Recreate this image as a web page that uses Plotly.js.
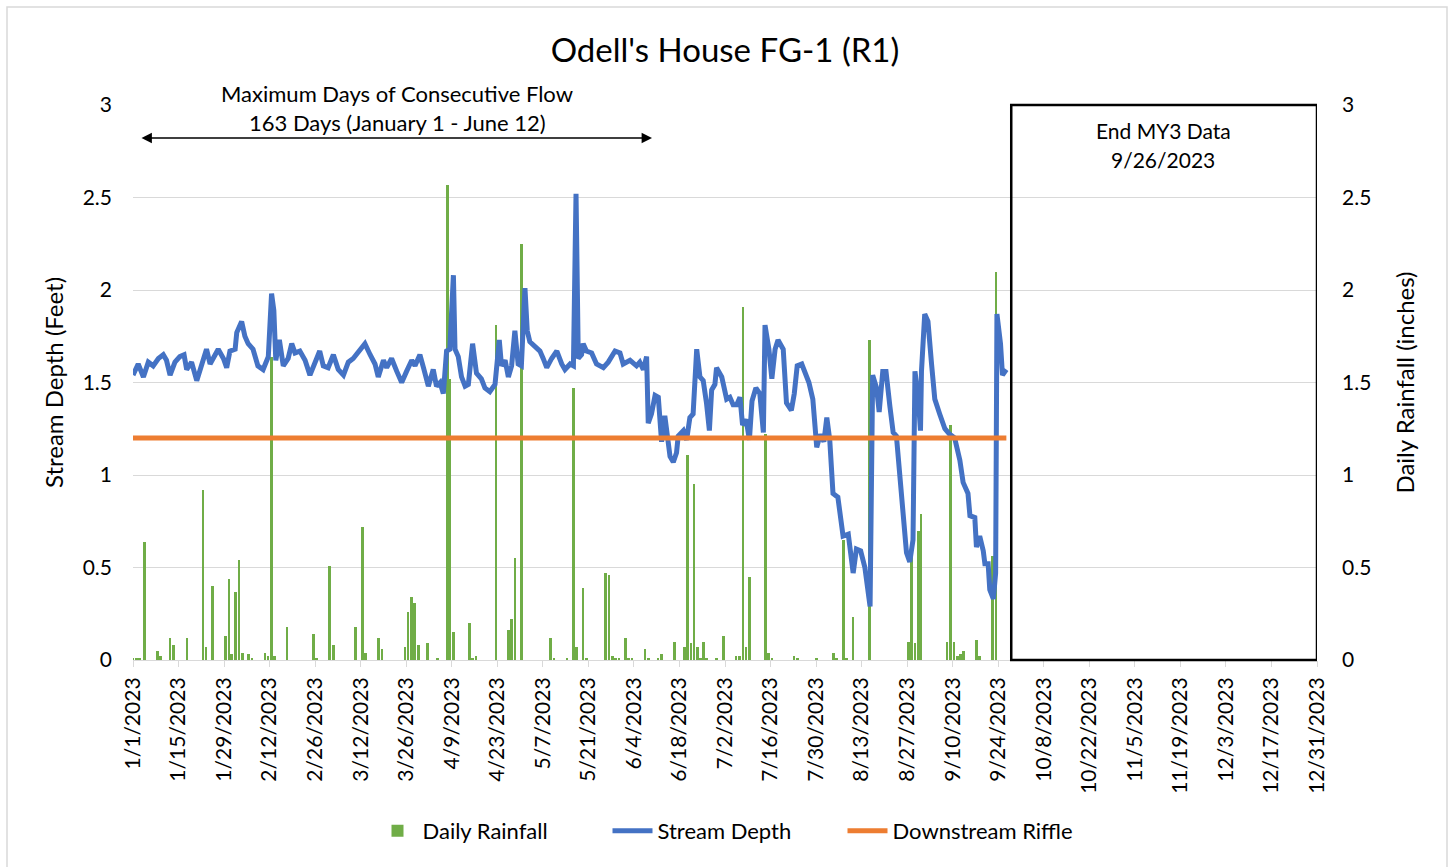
<!DOCTYPE html>
<html>
<head>
<meta charset="utf-8">
<script src="https://cdn.plot.ly/plotly-3.0.1.min.js"></script>
<style>
  html, body { margin: 0; padding: 0; background: #ffffff; }
  #chart { width: 1450px; height: 867px; }
</style>
</head>
<body>
<div id="chart"></div>
<script>
// ---- Data (days counted from 1/1/2023) ----
const tickDays = [0,14,28,42,56,70,84,98,112,126,140,154,168,182,196,210,224,238,252,266,280,294,308,322,336,350,364];
const tickLabels = ["1/1/2023","1/15/2023","1/29/2023","2/12/2023","2/26/2023","3/12/2023","3/26/2023","4/9/2023","4/23/2023","5/7/2023","5/21/2023","6/4/2023","6/18/2023","7/2/2023","7/16/2023","7/30/2023","8/13/2023","8/27/2023","9/10/2023","9/24/2023","10/8/2023","10/22/2023","11/5/2023","11/19/2023","12/3/2023","12/17/2023","12/31/2023"];

const depthDay = [0,1.6,3.2,4.7,6.2,7.8,9.3,10.3,11.4,12.9,14.4,15.7,16.5,18.0,19.6,21.1,22.6,23.7,25.2,26.2,27.8,28.8,29.8,31.4,31.9,33.4,34.4,35.4,36.9,38.4,40.0,41.6,42.6,43.3,43.9,45.0,46.2,47.7,48.8,49.8,51.3,52.9,54.4,55.9,57.4,58.5,60.0,61.6,63.1,64.7,66.2,67.7,69.3,71.3,72.9,74.4,75.4,77.0,78.0,79.5,81.1,82.6,84.1,85.7,86.7,88.2,89.3,90.8,92.3,93.3,94.4,95.4,96.4,97.4,98.5,99.0,100.0,101.0,102.1,103.1,104.4,105.6,107.1,108.2,109.7,111.3,112.6,113.3,114.4,115.4,116.4,117.4,118.4,119.4,120.5,121.2,122.0,123.6,125.1,126.1,127.2,128.7,130.3,131.8,132.8,134.4,135.4,136.2,136.9,137.9,138.4,139.4,141.0,142.5,144.6,146.1,148.2,149.7,150.7,152.8,154.8,155.8,156.9,157.9,158.4,159.4,160.5,161.5,162.5,163.5,165.1,166.1,167.1,167.6,169.2,170.2,171.2,172.2,173.3,174.3,175.3,176.3,177.2,177.9,178.9,179.4,181.0,182.5,183.5,184.5,185.6,186.6,187.4,188.5,189.5,190.3,191.5,192.7,193.8,194.3,195.5,196.4,197.4,198.3,199.9,200.9,202.4,203.3,204.2,205.6,206.6,207.8,209.0,210.2,211.3,212.4,213.3,214.2,215.2,216.7,218.3,219.9,221.4,222.4,223.7,225.0,226.6,227.4,228.6,229.4,230.5,231.5,232.7,233.7,234.7,235.8,236.8,237.8,238.8,239.8,240.4,241.4,242.1,242.4,243.4,244.4,245.5,246.5,248.0,249.6,251.1,252.6,254.2,255.2,256.7,257.3,258.8,259.3,260.3,261.4,261.9,262.9,263.4,264.5,265.2,265.6,266.7,267.3,268.5];
const depthFt = [1.54,1.60,1.53,1.61,1.59,1.63,1.65,1.62,1.54,1.61,1.64,1.65,1.57,1.61,1.51,1.59,1.68,1.60,1.65,1.68,1.63,1.58,1.67,1.68,1.77,1.83,1.75,1.71,1.68,1.59,1.57,1.64,1.98,1.89,1.62,1.73,1.59,1.63,1.71,1.66,1.67,1.62,1.54,1.61,1.67,1.59,1.58,1.65,1.57,1.54,1.61,1.63,1.67,1.71,1.65,1.60,1.53,1.62,1.58,1.63,1.56,1.50,1.56,1.62,1.59,1.65,1.58,1.48,1.57,1.48,1.50,1.44,1.67,1.68,2.08,1.68,1.64,1.53,1.48,1.49,1.71,1.55,1.52,1.47,1.45,1.49,1.73,1.59,1.62,1.53,1.59,1.78,1.60,1.59,2.01,1.78,1.72,1.69,1.67,1.63,1.58,1.63,1.67,1.60,1.57,1.60,1.59,2.52,1.63,1.65,1.71,1.67,1.66,1.60,1.58,1.61,1.67,1.66,1.60,1.62,1.59,1.61,1.57,1.64,1.28,1.33,1.43,1.42,1.18,1.32,1.10,1.07,1.12,1.21,1.24,1.19,1.31,1.33,1.68,1.53,1.51,1.39,1.24,1.46,1.49,1.58,1.53,1.41,1.42,1.38,1.38,1.42,1.27,1.30,1.19,1.40,1.47,1.44,1.23,1.81,1.68,1.52,1.68,1.73,1.68,1.39,1.35,1.44,1.59,1.60,1.56,1.50,1.41,1.15,1.22,1.18,1.31,1.19,0.90,0.88,0.67,0.68,0.47,0.60,0.59,0.50,0.29,1.54,1.47,1.34,1.56,1.56,1.37,1.23,1.21,1.01,0.76,0.58,0.53,0.65,1.56,1.42,1.24,1.56,1.87,1.83,1.60,1.41,1.33,1.25,1.22,1.20,1.08,0.96,0.90,0.78,0.77,0.61,0.67,0.59,0.52,0.52,0.38,0.33,0.47,1.87,1.71,1.54,1.57];

const rainDay = [0,1,2,3.5,7.5,8.5,11.4,12.5,16.6,21.5,22.5,24.5,28.4,29.5,30.3,31.5,32.6,33.6,35.5,36.6,40.6,41.5,42.6,43.5,47.4,55.4,56.4,60.5,61.6,68.4,70.5,71.5,75.4,76.5,83.6,84.6,85.6,86.6,87.7,90.6,93.6,96.6,97.5,98.5,103.4,104.4,105.4,111.6,115.4,116.4,117.4,119.5,128.4,129.4,133.4,135.4,136.4,138.4,139.4,145.3,146.3,147.4,148.4,149.4,151.4,152.4,153.4,157.4,158.4,161.4,162.4,166.4,169.5,170.5,171.5,172.5,173.5,174.4,175.4,176.4,179.4,181.5,185.4,186.4,187.5,188.4,189.5,194.4,195.4,196.4,203.2,204.2,210.2,215.3,216.3,218.4,219.4,221.4,226.4,238.4,239.4,240.4,241.4,242.2,250.3,251.3,252.4,253.4,254.4,255.4,259.3,260.3,264.3,265.3];
const rainIn = [0.01,0.01,0.01,0.64,0.05,0.02,0.12,0.08,0.12,0.92,0.07,0.40,0.13,0.44,0.03,0.37,0.54,0.04,0.03,0.01,0.04,0.02,1.64,0.02,0.18,0.14,0.01,0.51,0.08,0.18,0.72,0.04,0.12,0.06,0.07,0.26,0.34,0.31,0.08,0.09,0.01,2.57,1.52,0.15,0.20,0.01,0.02,1.81,0.16,0.22,0.55,2.25,0.12,0.01,0.01,1.47,0.07,0.39,0.01,0.47,0.46,0.02,0.01,0.01,0.12,0.01,0.01,0.06,0.01,0.01,0.03,0.10,0.07,1.11,0.09,0.95,0.07,0.01,0.10,0.01,0.01,0.13,0.02,0.02,1.91,0.07,0.45,1.22,0.04,0.01,0.02,0.01,0.01,0.04,0.01,0.65,0.01,0.23,1.73,0.10,0.56,0.09,0.70,0.79,0.10,1.27,0.10,0.02,0.03,0.05,0.11,0.02,0.56,2.10];

const riffleDay = [0, 268.5];
const riffleFt = [1.2, 1.2];

// ---- helpers ----
const DAY = 86400000;
const T0 = Date.UTC(2023, 0, 1);
const ms = d => T0 + d * DAY;

const FONT = "Lato, 'Open Sans', 'DejaVu Sans', sans-serif";
const TXT = '#000000';
const GRID = '#d9d9d9';

const traces = [
  {
    type: 'bar', name: 'Daily Rainfall',
    x: rainDay.map(ms), y: rainIn,
    width: 0.8 * DAY,
    marker: { color: '#70AD47', line: { width: 0 } },
    yaxis: 'y', xaxis: 'x'
  },
  {
    type: 'scatter', mode: 'lines', name: 'Stream Depth',
    x: depthDay.map(ms), y: depthFt,
    line: { color: '#4472C4', width: 5, shape: 'linear' },
    yaxis: 'y2', xaxis: 'x'
  },
  {
    type: 'scatter', mode: 'lines', name: 'Downstream Riffle',
    x: riffleDay.map(ms), y: riffleFt,
    line: { color: '#ED7D31', width: 5 },
    yaxis: 'y2', xaxis: 'x'
  }
];

const pxX = px => (px - 133) / 1184;
const pxY = py => (660 - py) / 555;

const layout = {
  width: 1450, height: 867,
  margin: { l: 133, r: 133, t: 105, b: 207, pad: 0 },
  paper_bgcolor: '#ffffff', plot_bgcolor: '#ffffff',
  font: { family: FONT, size: 21, color: TXT },
  showlegend: true,
  bargap: 0,
  title: {
    text: "Odell's House FG-1 (R1)",
    font: { family: FONT, size: 33, color: TXT },
    x: 0.5, xanchor: 'center', xref: 'paper',
    y: 1 - 50 / 867, yanchor: 'middle', yref: 'container'
  },
  xaxis: {
    type: 'date',
    range: [ms(0), ms(364)],
    tickmode: 'array',
    tickvals: tickDays.map(ms),
    ticktext: tickLabels,
    tickangle: -90,
    tickfont: { family: FONT, size: 21, color: TXT },
    ticks: 'outside', ticklen: 6, tickcolor: GRID, tickwidth: 1,
    ticklabelstandoff: 2,
    showline: true, linecolor: GRID, linewidth: 1,
    showgrid: false, zeroline: false, fixedrange: true
  },
  yaxis: {
    side: 'right',
    range: [0, 3], tick0: 0, dtick: 0.5,
    showgrid: true, gridcolor: GRID, gridwidth: 1,
    zeroline: false, showline: false, ticks: '',
    tickfont: { family: FONT, size: 21, color: TXT },
    ticklabelstandoff: 24,
    title: { text: 'Daily Rainfall (inches)', font: { family: FONT, size: 24, color: TXT }, standoff: 26 }
  },
  yaxis2: {
    side: 'left', overlaying: 'y',
    range: [0, 3], tick0: 0, dtick: 0.5,
    showgrid: false, zeroline: false, showline: false, ticks: '',
    tickfont: { family: FONT, size: 21, color: TXT },
    ticklabelstandoff: 20,
    title: { text: 'Stream Depth (Feet)', font: { family: FONT, size: 24, color: TXT }, standoff: 12 }
  },
  legend: {
    orientation: 'h',
    x: 0.5, xanchor: 'center', xref: 'paper',
    y: pxY(831), yanchor: 'middle', yref: 'paper',
    font: { family: FONT, size: 22, color: TXT },
    traceorder: 'normal',
    entrywidth: 180, entrywidthmode: 'pixels',
    itemwidth: 40
  },
  shapes: [
    { type: 'rect', xref: 'x', yref: 'paper', x0: ms(270), x1: ms(364), y0: 0, y1: 1,
      line: { color: '#000000', width: 2.5 }, fillcolor: 'rgba(0,0,0,0)', layer: 'above' },
    { type: 'rect', xref: 'paper', yref: 'paper', x0: pxX(7), x1: pxX(1447), y0: pxY(880), y1: pxY(7),
      line: { color: '#d9d9d9', width: 1.5 }, fillcolor: 'rgba(0,0,0,0)' }
  ],
  annotations: [
    { xref: 'paper', yref: 'paper', x: pxX(397), y: pxY(93), text: 'Maximum Days of Consecutive Flow',
      showarrow: false, xanchor: 'center', yanchor: 'middle', font: { family: FONT, size: 22, color: TXT } },
    { xref: 'paper', yref: 'paper', x: pxX(397), y: pxY(122), text: '163 Days (January 1 - June 12)',
      showarrow: false, xanchor: 'center', yanchor: 'middle', font: { family: FONT, size: 22, color: TXT } },
    { xref: 'paper', yref: 'paper', x: pxX(652), y: pxY(138), axref: 'pixel', ayref: 'pixel',
      ax: -(652 - 140), ay: 0, text: '', showarrow: true, arrowside: 'end+start',
      arrowhead: 2, arrowsize: 1.3, arrowwidth: 1.6, arrowcolor: '#000000', standoff: 0, startstandoff: 0 },
    { xref: 'paper', yref: 'paper', x: pxX(1163), y: pxY(130), text: 'End MY3 Data',
      showarrow: false, xanchor: 'center', yanchor: 'middle', font: { family: FONT, size: 21, color: TXT } },
    { xref: 'paper', yref: 'paper', x: pxX(1163), y: pxY(159), text: '9/26/2023',
      showarrow: false, xanchor: 'center', yanchor: 'middle', font: { family: FONT, size: 21, color: TXT } }
  ]
};

Plotly.newPlot('chart', traces, layout, { displayModeBar: false, staticPlot: true });
</script>
</body>
</html>
